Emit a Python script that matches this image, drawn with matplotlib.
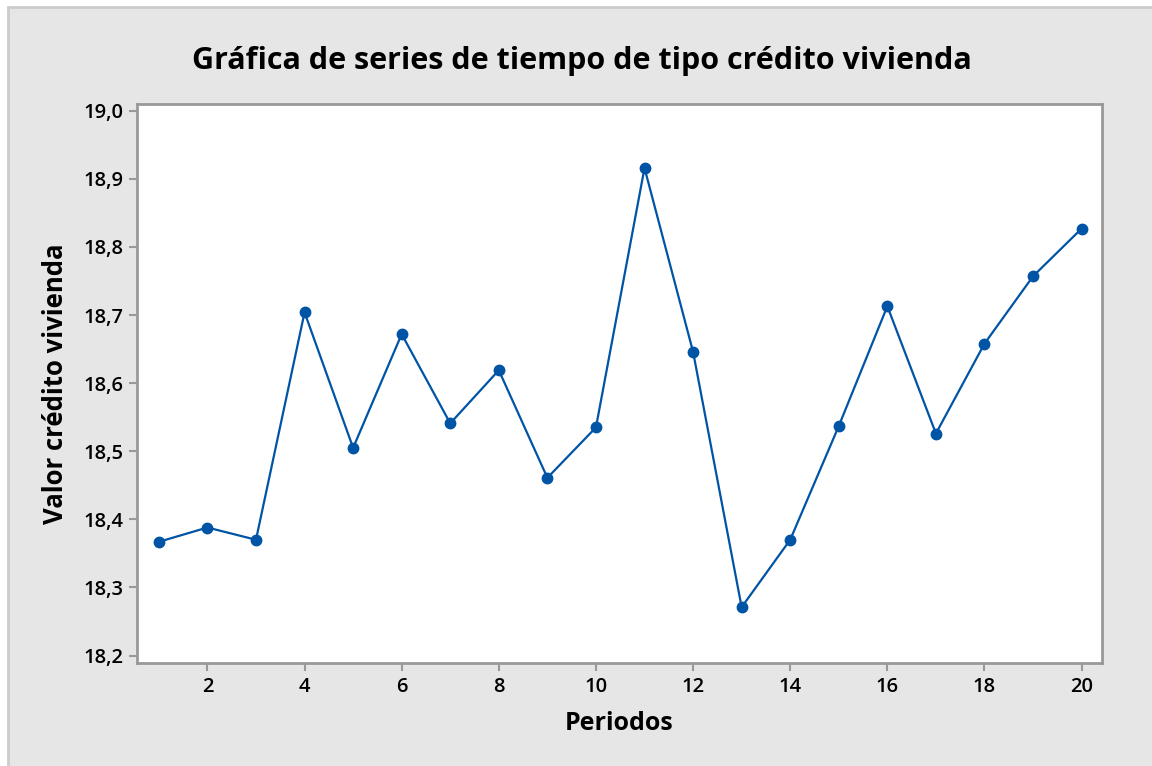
import matplotlib
matplotlib.use('Agg')
import matplotlib.pyplot as plt
from matplotlib.patches import Rectangle
from matplotlib.ticker import FuncFormatter

plt.rcParams['font.family'] = ['Open Sans', 'DejaVu Sans']

# Datos
periodos = list(range(1, 21))
valores = [18.367, 18.388, 18.370, 18.704, 18.505, 18.672, 18.541, 18.619, 18.461, 18.535,
           18.916, 18.646, 18.271, 18.370, 18.537, 18.713, 18.526, 18.658, 18.757, 18.827]
yticks = [18.2, 18.3, 18.4, 18.5, 18.6, 18.7, 18.8, 18.9, 19.0]
xticks = [2, 4, 6, 8, 10, 12, 14, 16, 18, 20]

fig = plt.figure(figsize=(11.52, 7.66), dpi=100, facecolor='white')
# fondo gris con borde
fig.patches.append(Rectangle((8 / 1152, -0.1), 1.1, 1.1 - 7 / 766, transform=fig.transFigure,
                             facecolor='#e6e6e6', edgecolor='#cccccc', linewidth=2, zorder=-5))

ax = fig.add_axes([137 / 1152, 1 - 663 / 766, (1102 - 137) / 1152, (663 - 104) / 766])
ax.set_zorder(2)
ax.set_facecolor('white')
ax.plot(periodos, valores, color='#0054a6', linewidth=1.6, marker='o', markersize=7.5)

ax.set_xlim(0.55, 20.42)
ax.set_ylim(18.189, 19.010)
ax.set_xticks(xticks)
ax.set_yticks(yticks)
ax.yaxis.set_major_formatter(FuncFormatter(lambda v, p: f'{v:.1f}'.replace('.', ',')))

for s in ax.spines.values():
    s.set_color('#999999')
    s.set_linewidth(2)
ax.tick_params(axis='both', colors='#999999', length=6, width=1.5, labelcolor='black',
               labelsize=14.5, pad=4)
for lbl in ax.get_xticklabels() + ax.get_yticklabels():
    lbl.set_fontweight('semibold')

ax.set_xlabel('Periodos', fontsize=18, fontweight='bold', labelpad=10)
ax.set_ylabel('Valor crédito vivienda', fontsize=18.5, fontweight='bold', labelpad=10)
fig.text(582 / 1152, 1 - 61 / 766, 'Gráfica de series de tiempo de tipo crédito vivienda',
         ha='center', va='center', fontsize=22, fontweight='bold')

plt.savefig('out.png', dpi=100, facecolor=fig.get_facecolor())
